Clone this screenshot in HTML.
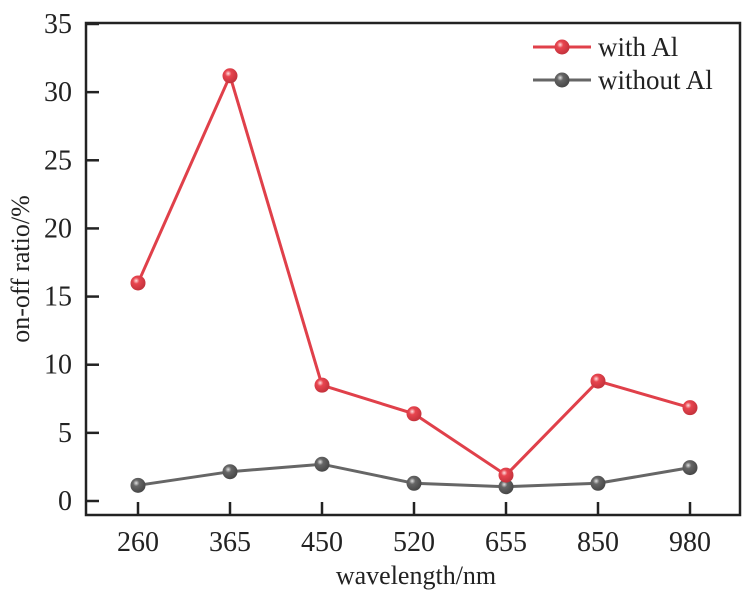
<!DOCTYPE html>
<html><head><meta charset="utf-8"><style>
html,body{margin:0;padding:0;background:#fff;}
svg{display:block;font-family:"Liberation Serif",serif;}
</style></head><body>
<svg id="chart" width="752" height="600" viewBox="0 0 752 600">
<defs>
<radialGradient id="gr" cx="0.38" cy="0.35" r="0.7"><stop offset="0" stop-color="#ffe0e0"/><stop offset="0.3" stop-color="#e8454f"/><stop offset="1" stop-color="#c0303a"/></radialGradient>
<radialGradient id="gg" cx="0.38" cy="0.35" r="0.7"><stop offset="0" stop-color="#e0e0e0"/><stop offset="0.3" stop-color="#666"/><stop offset="1" stop-color="#444"/></radialGradient>
</defs>
<g id="marks"></g>
<rect x="86" y="23" width="654" height="492" fill="none" stroke="#222" stroke-width="2.5"/>
<g id="axes"></g>
<text x="416" y="584" font-size="26" text-anchor="middle" fill="#222">wavelength/nm</text>
<text transform="translate(29,269) rotate(-90)" font-size="26" text-anchor="middle" fill="#222">on-off ratio/%</text>
<g>
<g>
<line x1="533" y1="47" x2="591" y2="47" stroke="#e0404a" stroke-width="3"/>
<circle cx="562" cy="47" r="7.5" fill="url(#gr)"/>
<text x="598" y="56" font-size="27" fill="#222">with Al</text></g>
<g>
<line x1="533" y1="80" x2="591" y2="80" stroke="#666" stroke-width="3"/>
<circle cx="562" cy="80" r="7.5" fill="url(#gg)"/>
<text x="598" y="89" font-size="27" fill="#222">without Al</text></g>
</g>
</svg>
<script>
const categories=["260","365","450","520","655","850","980"];
const withAl=[16.0,31.2,8.5,6.4,1.9,8.8,6.85];
const withoutAl=[1.15,2.15,2.7,1.3,1.05,1.3,2.45];
const yTicks=[0,5,10,15,20,25,30,35];
const NS="http://www.w3.org/2000/svg";
const xS=i=>138+i*92;
const yS=v=>501-v*(477/35);
const marks=document.getElementById('marks'),axes=document.getElementById('axes');
function mk(t,a,p){const e=document.createElementNS(NS,t);for(const k in a)e.setAttribute(k,a[k]);p.appendChild(e);return e;}
yTicks.forEach(v=>{
 const y=yS(v);
 const t=mk('line',{x1:86,x2:99,y1:y,y2:y,stroke:'#222','stroke-width':2.5},axes);
 
 
 const l=mk('text',{x:72,y:y+9,'font-size':28,'text-anchor':'end',fill:'#222'},axes);
 
 
 l.textContent=v;
});
categories.forEach((c,i)=>{
 const x=xS(i);
 const t=mk('line',{x1:x,x2:x,y1:515,y2:502,stroke:'#222','stroke-width':2.5},axes);
 
 
 const l=mk('text',{x:x,y:551,'font-size':28,'text-anchor':'middle',fill:'#222'},axes);
 
 
 l.textContent=c;
});
function series(vals,color,grad,name){
 const pl=mk('polyline',{points:vals.map((v,i)=>xS(i)+','+yS(v)).join(' '),fill:'none',stroke:color,'stroke-width':3},marks);
 
 
 vals.forEach((v,i)=>{
  const c=mk('circle',{cx:xS(i),cy:yS(v),r:7.5,fill:grad},marks);
  
  
 });
}
series(withoutAl,'#666','url(#gg)','without-al');
series(withAl,'#e0404a','url(#gr)','with-al');
</script>
</body></html>
